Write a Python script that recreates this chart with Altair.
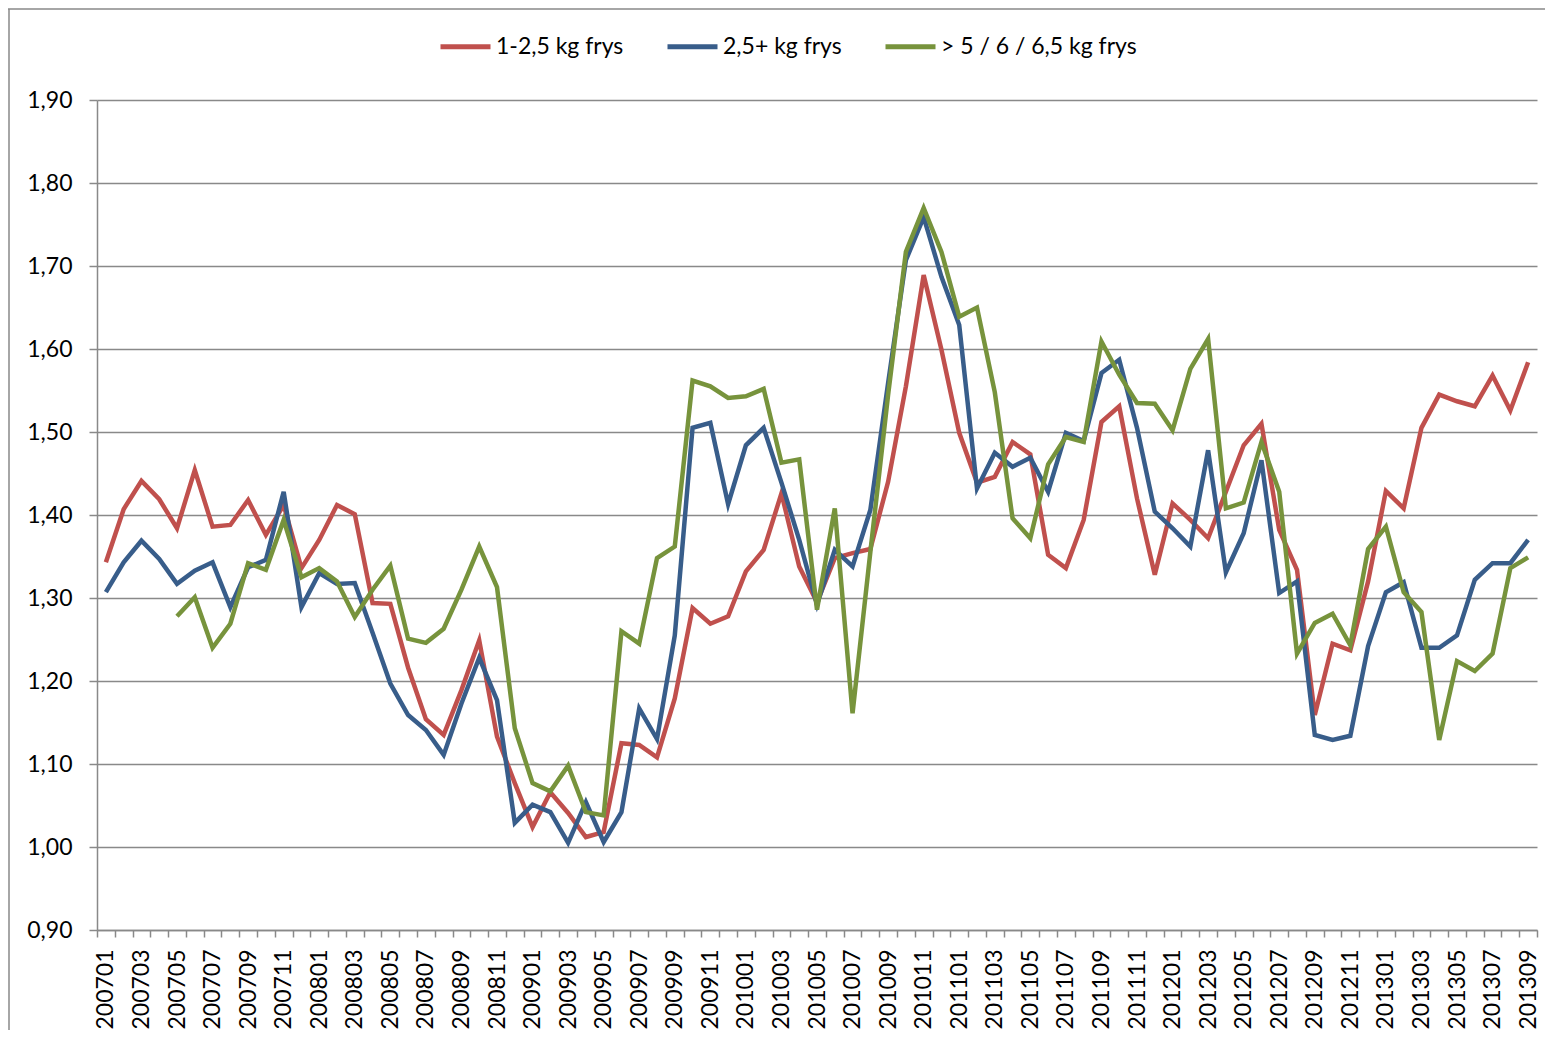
import altair as alt
import pandas as pd

months = [f"{y}{m:02d}" for y in range(2007, 2014) for m in range(1, 13)][:81]

red = [1.343, 1.407, 1.441, 1.419, 1.384, 1.454, 1.386, 1.388, 1.418, 1.376,
       1.412, 1.336, 1.370, 1.412, 1.401, 1.294, 1.293, 1.216, 1.154, 1.135,
       1.189, 1.249, 1.133, 1.077, 1.024, 1.066, 1.041, 1.012, 1.018, 1.125,
       1.123, 1.108, 1.179, 1.288, 1.269, 1.278, 1.332, 1.358, 1.426, 1.338,
       1.295, 1.348, 1.354, 1.359, 1.440, 1.555, 1.689, 1.599, 1.499, 1.439,
       1.446, 1.488, 1.473, 1.352, 1.336, 1.394, 1.512, 1.531, 1.420, 1.328,
       1.414, 1.394, 1.372, 1.428, 1.484, 1.510, 1.382, 1.334, 1.159, 1.245,
       1.237, 1.320, 1.429, 1.408, 1.505, 1.545, 1.537, 1.531, 1.568, 1.526,
       1.584]

blue = [1.307, 1.343, 1.369, 1.347, 1.317, 1.333, 1.343, 1.289, 1.337, 1.346,
        1.428, 1.289, 1.330, 1.317, 1.318, 1.258, 1.197, 1.159, 1.141, 1.111,
        1.173, 1.228, 1.177, 1.029, 1.051, 1.042, 1.005, 1.054, 1.006, 1.042,
        1.167, 1.130, 1.255, 1.505, 1.511, 1.413, 1.484, 1.505, 1.439, 1.370,
        1.292, 1.358, 1.338, 1.406, 1.559, 1.707, 1.759, 1.687, 1.629, 1.432,
        1.475, 1.458, 1.469, 1.428, 1.499, 1.489, 1.571, 1.587, 1.505, 1.404,
        1.384, 1.362, 1.478, 1.331, 1.378, 1.466, 1.306, 1.320, 1.135, 1.129,
        1.134, 1.242, 1.307, 1.319, 1.240, 1.240, 1.255, 1.322, 1.342, 1.342,
        1.370]

green = [None, None, None, None,
         1.278, 1.301, 1.240, 1.269, 1.342, 1.334,
         1.394, 1.325, 1.336, 1.320, 1.277, 1.310, 1.339, 1.251, 1.246, 1.263,
         1.310, 1.362, 1.313, 1.143, 1.077, 1.067, 1.098, 1.042, 1.038, 1.260,
         1.245, 1.348, 1.362, 1.562, 1.555, 1.541, 1.543, 1.552, 1.463, 1.467,
         1.286, 1.408, 1.161, 1.355, 1.545, 1.717, 1.770, 1.717, 1.639, 1.650,
         1.548, 1.396, 1.372, 1.461, 1.494, 1.488, 1.609, 1.569, 1.535, 1.534,
         1.502, 1.576, 1.612, 1.408, 1.415, 1.488, 1.428, 1.233, 1.270, 1.281,
         1.243, 1.359, 1.386, 1.307, 1.283, 1.129, 1.224, 1.212, 1.233, 1.336,
         1.349]

names = ["1-2,5 kg frys", "2,5+ kg frys", "> 5 / 6 / 6,5 kg frys"]
colors = ["#C0504D", "#385D8A", "#77933C"]
y_ticks = [0.9, 1.0, 1.1, 1.2, 1.3, 1.4, 1.5, 1.6, 1.7, 1.8, 1.9]

rows = []
for s, vals in zip(names, [red, blue, green]):
    for m, v in zip(months, vals):
        if v is not None:
            rows.append({"month": m, "value": v, "series": s})
df = pd.DataFrame(rows)

W, H = 1440, 830
GRAY = "#898989"
FS = 23

lines = alt.Chart(df).mark_line(strokeWidth=4.5).encode(
    x=alt.X("month:O", sort=months, bandPosition=0.5,
            scale=alt.Scale(type="band", paddingInner=0, paddingOuter=0),
            axis=alt.Axis(title=None, tickBand="extent", labelAngle=270,
                          labelOverlap=False, labelFontSize=FS, labelColor="#000000",
                          labelPadding=12, tickSize=7, tickWidth=1.5, tickColor=GRAY,
                          domainColor=GRAY, domainWidth=1.5, grid=False,
                          labelExpr="toNumber(slice(datum.label, 4)) % 2 == 1 ? datum.label : ''")),
    y=alt.Y("value:Q",
            scale=alt.Scale(domain=[0.9, 1.9], nice=False, zero=False),
            axis=alt.Axis(title=None, values=y_ticks, grid=True, gridColor=GRAY,
                          gridWidth=1.5, domainColor=GRAY, domainWidth=1.5,
                          tickSize=8, tickWidth=1.5, tickColor=GRAY,
                          labelFontSize=FS, labelColor="#000000", labelPadding=17,
                          labelExpr="replace(format(datum.value, '.2f'), '.', ',')")),
    color=alt.Color("series:N", sort=names,
                    scale=alt.Scale(domain=names, range=colors),
                    legend=alt.Legend(title=None, orient="none", legendX=341, legendY=-81,
                                      direction="horizontal", symbolType="stroke",
                                      symbolSize=2500, symbolStrokeWidth=5,
                                      labelFontSize=FS, labelColor="#000000",
                                      labelOffset=3, columnPadding=33, labelLimit=400)),
)

frame_src = pd.DataFrame({"k": [0]})
frame_top = alt.Chart(frame_src).mark_rule(color=GRAY, strokeWidth=1.5).encode(
    x=alt.value(-89), x2=alt.value(W + 8), y=alt.value(-91))
frame_left = alt.Chart(frame_src).mark_rule(color=GRAY, strokeWidth=1.5).encode(
    x=alt.value(-88), y=alt.value(-91), y2=alt.value(H + 100))

chart = alt.layer(frame_top, frame_left, lines).properties(
    width=W, height=H,
    padding={"left": 89, "top": 92, "right": 8, "bottom": 100},
    autosize=alt.AutoSizeParams(type="none"),
).configure(font="Lato").configure_view(strokeWidth=0)

chart.save("out.html", embed_options={"renderer": "svg", "actions": False})
